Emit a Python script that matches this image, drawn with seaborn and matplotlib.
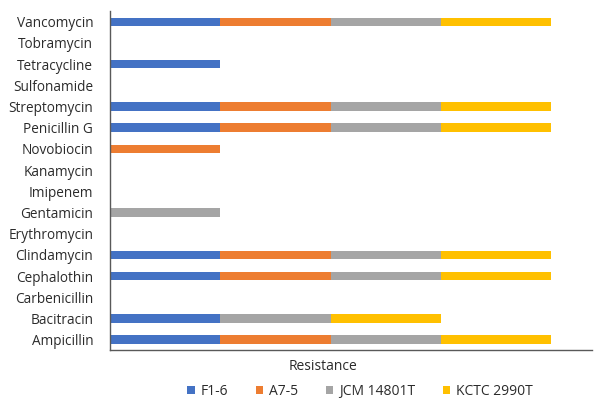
import numpy as np
import pandas as pd
import matplotlib
matplotlib.use("Agg")
import matplotlib.pyplot as plt
from matplotlib.patches import Patch
import seaborn as sns

# Antibiotics, bottom to top on the axis
antibiotics = ["Ampicillin", "Bacitracin", "Carbenicillin", "Cephalothin",
               "Clindamycin", "Erythromycin", "Gentamicin", "Imipenem",
               "Kanamycin", "Novobiocin", "Penicillin G", "Streptomycin",
               "Sulfonamide", "Tetracycline", "Tobramycin", "Vancomycin"]

# Resistance (1 = resistant) per strain, same order as antibiotics
f1_6     = [1, 1, 0, 1, 1, 0, 0, 0, 0, 0, 1, 1, 0, 1, 0, 1]
a7_5     = [1, 0, 0, 1, 1, 0, 0, 0, 0, 1, 1, 1, 0, 0, 0, 1]
jcm14801 = [1, 1, 0, 1, 1, 0, 1, 0, 0, 0, 1, 1, 0, 0, 0, 1]
kctc2990 = [1, 1, 0, 1, 1, 0, 0, 0, 0, 0, 1, 1, 0, 0, 0, 1]

strains = ["F1-6", "A7-5", "JCM 14801T", "KCTC 2990T"]
colors = ["#4472C4", "#ED7D31", "#A5A5A5", "#FFC000"]
text_color = "#2b2b2b"

df = pd.DataFrame({"antibiotic": antibiotics,
                   "F1-6": f1_6, "A7-5": a7_5,
                   "JCM 14801T": jcm14801, "KCTC 2990T": kctc2990})
cum = df[strains].cumsum(axis=1)
order = antibiotics[::-1]  # top row first

sns.set_theme(style="white")
plt.rcParams["font.family"] = ["Open Sans", "DejaVu Sans"]

fig = plt.figure(figsize=(5.94, 3.98), dpi=100)
ax = fig.add_axes([0.185, 0.12, 0.812, 0.852])

# Stacked bars: draw cumulative totals from the last strain back to the first
for name, col in zip(strains[::-1], colors[::-1]):
    sns.barplot(x=cum[name], y=df["antibiotic"], order=order, orient="h",
                color=col, width=0.4, saturation=1, edgecolor="none", ax=ax)

ax.set_xlim(0, 4.37)
ax.set_ylim(15.5, -0.5)
ax.set_xticks([])
ax.set_ylabel("")
ax.set_xlabel("Resistance", fontsize=10, color=text_color)
ax.xaxis.label.set_va("center")
ax.xaxis.set_label_coords(0.442, -0.047)
ax.tick_params(axis="y", length=0, labelsize=9.8, labelcolor=text_color, pad=12)
for s in ["top", "right"]:
    ax.spines[s].set_visible(False)
for s in ["left", "bottom"]:
    ax.spines[s].set_color("#595959")
    ax.spines[s].set_linewidth(1.0)

handles = [Patch(facecolor=c, edgecolor="none") for c in colors]
fig.legend(handles, strains, loc="center", bbox_to_anchor=(0.606, 0.016),
           ncol=4, frameon=False, fontsize=10, handlelength=0.55,
           handleheight=0.55, handletextpad=0.4, columnspacing=2.0,
           labelcolor=text_color, borderpad=0.0)

fig.savefig("out.png", dpi=100)
